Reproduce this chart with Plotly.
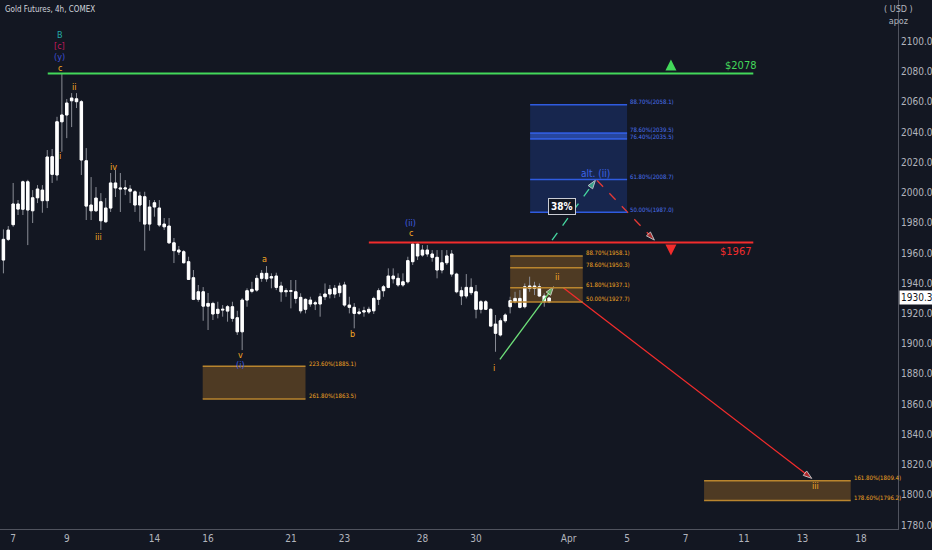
"""Gold futures 4h Elliott-wave chart (TradingView style) rebuilt with Plotly."""

import plotly.graph_objects as go

BG = "#131722"
AXIS_TEXT = "#b2b5be"
AXIS_LINE = "#50535e"
WICK = "#8a8d96"
ORANGE = "#f4a623"
BLUE = "#3d64e8"
GREEN = "#43d85a"
RED = "#f22c2c"
FONT = "DejaVu Sans Condensed, Roboto, sans-serif"

# ---------------------------------------------------------------------------
# Data (4h candles, 7 Mar - 1 Apr, x = bar number)
# ---------------------------------------------------------------------------

opens = [
    1955.4, 1969.1, 1978.8, 1992.5, 1989.0, 2007.2, 1988.0, 1996.6, 2001.7, 1994.7,
    2023.8, 2011.7, 2046.9, 2051.4, 2060.8, 2062.1, 2060.2, 2021.1, 1991.8, 1988.0,
    1994.0, 1980.7, 1989.8, 2006.4, 2003.0, 2002.4, 2002.4, 2000.6, 1991.8, 1997.3,
    1979.2, 1990.5, 1989.8, 1979.2, 1977.9, 1966.8, 1962.0, 1960.9, 1954.3, 1943.7,
    1929.4, 1934.4, 1924.9, 1926.7, 1920.1, 1922.8, 1921.6, 1924.5, 1917.2, 1907.9,
    1928.9, 1934.7, 1935.5, 1943.3, 1946.6, 1944.4, 1944.8, 1938.2, 1934.4, 1935.1,
    1934.4, 1930.7, 1922.8, 1928.9, 1926.3, 1926.3, 1931.1, 1932.9, 1936.7, 1933.8,
    1938.9, 1925.6, 1924.1, 1920.1, 1921.0, 1921.0, 1921.8, 1929.4, 1935.1, 1937.3,
    1944.8, 1943.3, 1938.9, 1941.0, 1954.3, 1966.0, 1958.7, 1962.0, 1959.4, 1957.2,
    1948.8, 1953.6, 1959.4, 1946.1, 1935.1, 1931.6, 1937.3, 1934.4, 1922.8, 1927.8,
    1922.8, 1913.0, 1905.8, 1915.2, 1924.5, 1927.8, 1930.0, 1924.5, 1936.7, 1938.2,
    1937.7, 1931.6, 1927.8,
]
highs = [
    1975.7, 1977.9, 2006.4, 1995.1, 2008.0, 2008.5, 2001.7, 2005.0, 2005.0, 2028.2,
    2028.9, 2050.2, 2078.8, 2062.0, 2065.9, 2065.9, 2061.3, 2029.5, 2010.3, 2003.7,
    1999.7, 1996.4, 2013.0, 2015.0, 2013.0, 2008.3, 2005.0, 2001.7, 2000.6, 2000.6,
    1995.1, 1995.1, 1995.1, 1983.2, 1983.2, 1970.0, 1964.7, 1962.0, 1957.6, 1948.8,
    1938.9, 1937.5, 1933.6, 1927.8, 1927.8, 1925.6, 1925.6, 1927.8, 1921.8, 1930.2,
    1936.7, 1941.0, 1945.5, 1948.8, 1951.4, 1946.6, 1947.0, 1941.0, 1936.7, 1942.2,
    1942.2, 1933.4, 1930.0, 1931.1, 1928.5, 1933.4, 1939.9, 1938.9, 1938.9, 1940.4,
    1941.0, 1931.1, 1926.9, 1923.4, 1924.5, 1924.5, 1931.1, 1936.7, 1938.9, 1949.9,
    1949.9, 1946.6, 1946.6, 1957.6, 1966.4, 1966.4, 1965.3, 1965.3, 1962.0, 1962.0,
    1962.0, 1962.0, 1962.0, 1947.0, 1937.7, 1946.1, 1943.3, 1938.9, 1928.9, 1928.9,
    1923.4, 1919.0, 1916.8, 1920.1, 1931.1, 1934.4, 1935.5, 1939.9, 1944.4, 1941.0,
    1939.9, 1933.4, 1931.1,
]
lows = [
    1946.6, 1968.0, 1977.4, 1985.2, 1985.2, 1965.3, 1979.9, 1993.1, 1986.7, 1989.8,
    2006.4, 2008.0, 2027.1, 2036.1, 2043.4, 2056.0, 2011.7, 1981.9, 1981.9, 1987.2,
    1975.3, 1980.1, 1987.2, 1997.1, 1987.2, 1998.4, 1993.1, 1987.2, 1980.7, 1961.6,
    1974.8, 1984.1, 1977.4, 1975.3, 1966.0, 1953.4, 1958.7, 1953.2, 1942.2, 1928.9,
    1927.8, 1915.2, 1909.1, 1915.7, 1916.8, 1917.9, 1914.6, 1914.6, 1905.8, 1895.8,
    1924.5, 1933.4, 1934.4, 1941.0, 1941.0, 1936.7, 1935.5, 1927.8, 1931.1, 1923.4,
    1926.7, 1920.1, 1920.1, 1924.5, 1922.3, 1917.9, 1928.9, 1930.0, 1930.2, 1931.1,
    1924.5, 1920.1, 1910.2, 1919.0, 1917.9, 1919.7, 1919.7, 1925.6, 1931.1, 1936.7,
    1939.9, 1937.7, 1937.7, 1939.9, 1952.1, 1955.4, 1957.6, 1957.6, 1954.3, 1943.3,
    1946.6, 1952.1, 1944.4, 1933.4, 1925.6, 1930.0, 1932.2, 1916.8, 1920.1, 1922.3,
    1911.3, 1894.7, 1904.8, 1913.9, 1920.1, 1926.7, 1923.4, 1923.4, 1934.4, 1932.2,
    1931.1, 1924.5, 1926.9,
]
closes = [
    1969.1, 1975.2, 1992.5, 1989.1, 2007.2, 1988.5, 1996.6, 2002.4, 1994.7, 2023.6,
    2012.1, 2046.9, 2051.4, 2059.3, 2062.6, 2060.2, 2021.6, 1991.1, 1988.0, 1996.4,
    1981.4, 1989.8, 2006.4, 2003.1, 2002.4, 2003.1, 2001.0, 1991.8, 1997.8, 1979.2,
    1990.5, 1993.3, 1978.6, 1977.4, 1966.8, 1961.6, 1960.7, 1953.6, 1942.6, 1929.4,
    1934.4, 1924.9, 1926.7, 1919.7, 1922.8, 1922.3, 1924.5, 1916.8, 1907.9, 1928.9,
    1935.1, 1936.0, 1943.3, 1946.6, 1943.0, 1943.5, 1937.3, 1934.4, 1935.1, 1934.7,
    1930.0, 1921.8, 1929.4, 1926.3, 1927.1, 1931.1, 1932.9, 1936.0, 1932.9, 1938.2,
    1925.6, 1924.1, 1920.1, 1921.0, 1921.8, 1922.8, 1930.0, 1935.1, 1937.7, 1944.8,
    1943.0, 1938.9, 1941.0, 1955.0, 1966.0, 1958.1, 1962.0, 1959.4, 1957.2, 1948.8,
    1953.6, 1958.1, 1946.1, 1934.4, 1931.6, 1937.3, 1933.8, 1922.8, 1927.8, 1922.8,
    1911.7, 1906.9, 1915.2, 1919.0, 1928.5, 1930.0, 1924.1, 1937.7, 1938.2, 1936.7,
    1931.6, 1927.8, 1930.3,
]
bars = list(range(len(opens)))

day_ticks = [2, 13, 31, 42, 59, 70, 86, 97, 116, 128, 140, 152, 164, 176]
day_labels = ["7", "9", "14", "16", "21", "23", "28", "30", "Apr", "5", "7", "11", "13", "18"]
price_ticks = list(range(1780, 2101, 20))

resistance_hi = 2078.8
resistance_lo = 1967.0
last_price = 1930.3

# Fibonacci target zones
alt_pct = ["50.00%", "61.80%", "76.40%", "78.60%", "88.70%"]
alt_lvl = [1987.0, 2008.7, 2035.5, 2039.5, 2058.1]
ii_pct = ["50.00%", "61.80%", "78.60%", "88.70%"]
ii_lvl = [1927.7, 1937.1, 1950.3, 1958.1]
v_pct = ["223.60%", "261.80%"]
v_lvl = [1885.1, 1863.5]
iii_pct = ["161.80%", "178.60%"]
iii_lvl = [1809.4, 1796.2]

# Projected paths (bar, price)
up_x, up_y = [101.9, 112.9], [1889.7, 1937.7]
alt_up_x, alt_up_y = [112.6, 121.5], [1968.6, 2008.2]
alt_dn_x, alt_dn_y = [121.8, 133.6], [2008.2, 1968.6]
down_x, down_y = [114.9, 165.9], [1937.1, 1810.9]

Y_RANGE = [1777.4, 2127.5]
PLOT_H = 529  # plot area height in px, used to turn pixel offsets into prices

# ---------------------------------------------------------------------------
# Figure
# ---------------------------------------------------------------------------

fig = go.Figure()

candle_style = dict(line=dict(color=WICK, width=1), fillcolor="#ffffff")
fig.add_trace(
    go.Candlestick(
        x=bars, open=opens, high=highs, low=lows, close=closes,
        increasing=candle_style, decreasing=candle_style,
        whiskerwidth=0, showlegend=False, hoverinfo="skip",
    )
)
# bodies again in white so the outline doesn't look grey
body_top = [max(o, c) for o, c in zip(opens, closes)]
body_bot = [min(o, c) for o, c in zip(opens, closes)]
body_style = dict(line=dict(color="#ffffff", width=1), fillcolor="#ffffff")
fig.add_trace(
    go.Candlestick(
        x=bars, open=body_bot, high=body_top, low=body_bot, close=body_top,
        increasing=body_style, decreasing=body_style,
        whiskerwidth=0, showlegend=False, hoverinfo="skip",
    )
)


def add_fib_box(x0, x1, levels, pcts, fill, line_color, text_color):
    fig.add_shape(type="rect", x0=x0, x1=x1, y0=min(levels), y1=max(levels),
                  fillcolor=fill, line_width=0, layer="below")
    for lvl, pct in zip(levels, pcts):
        fig.add_shape(type="line", x0=x0, x1=x1, y0=lvl, y1=lvl,
                      line=dict(color=line_color, width=1.5))
        fig.add_annotation(x=x1, y=lvl, text=f"{pct}({lvl:.1f})", showarrow=False,
                           xanchor="left", yanchor="middle", xshift=1, yshift=3,
                           font=dict(size=6, color=text_color, family=FONT))


add_fib_box(108.1, 128.0, alt_lvl, alt_pct, "rgba(41,98,255,0.2)", "#2f5be0", "#4a72f0")
fig.add_shape(type="rect", x0=108.1, x1=128.0, y0=alt_lvl[2], y1=alt_lvl[3],
              fillcolor="rgba(60,110,255,0.45)", line_width=0)
orange_fill = "rgba(255,165,40,0.25)"
orange_line = "#b9852e"
add_fib_box(104.0, 118.9, ii_lvl, ii_pct, orange_fill, orange_line, ORANGE)
add_fib_box(40.9, 62.0, v_lvl, v_pct, orange_fill, orange_line, ORANGE)
add_fib_box(143.8, 173.9, iii_lvl, iii_pct, orange_fill, orange_line, ORANGE)

# key horizontal levels
fig.add_shape(type="line", x0=9.1, x1=153.9, y0=resistance_hi, y1=resistance_hi,
              line=dict(color=GREEN, width=2))
fig.add_shape(type="line", x0=75.0, x1=153.9, y0=resistance_lo, y1=resistance_lo,
              line=dict(color=RED, width=2))

# small up / down arrow icons sitting on the two levels
px_to_price = (Y_RANGE[1] - Y_RANGE[0]) / PLOT_H
fig.add_trace(
    go.Scatter(
        x=[137, 137],
        y=[resistance_hi + 14 * px_to_price, resistance_lo - 13 * px_to_price],
        mode="markers",
        marker=dict(symbol=["arrow-up", "arrow-down"], size=11, color=[GREEN, RED]),
        showlegend=False, hoverinfo="skip",
    )
)


# projected paths
def add_path(xs, ys, color, dash="solid", width=1.3):
    fig.add_trace(
        go.Scatter(
            x=xs, y=ys, mode="lines+markers",
            line=dict(color=color, width=width, dash=dash),
            marker=dict(symbol="arrow", size=[0, 9], angleref="previous", color=color),
            showlegend=False, hoverinfo="skip",
        )
    )


add_path(up_x, up_y, "#6ee07a")
add_path(alt_up_x, alt_up_y, "#45d6a0", dash="dash")
add_path(alt_dn_x, alt_dn_y, "#e53935", dash="dash")
add_path(down_x, down_y, RED)

# ---------------------------------------------------------------------------
# Wave labels
# ---------------------------------------------------------------------------

wave_labels = [
    # bar, text, colour, anchored to high/low, pixel shift
    (12, "B", "#23a8a8", "high", 39),
    (12, "[c]", "#c2185b", "high", 28),
    (12, "(y)", "#3f51d5", "high", 17),
    (12, "c", ORANGE, "high", 6),
    (15, "ii", ORANGE, "high", 6),
    (12, "i", ORANGE, "low", -4),
    (20, "iii", ORANGE, "low", -7),
    (23, "iv", ORANGE, "high", 3),
    (49, "v", ORANGE, "low", -5),
    (49, "(i)", "#3f5de0", "low", -15),
    (54, "a", ORANGE, "high", 7),
    (72, "b", ORANGE, "low", -6),
    (84, "c", ORANGE, "high", 10),
    (84, "(ii)", "#3f5de0", "high", 20),
    (101, "i", ORANGE, "low", -16),
]
for bar, text, color, side, shift in wave_labels:
    y = highs[bar] if side == "high" else lows[bar]
    fig.add_annotation(x=bar - 0.4, y=y, text=text, showarrow=False, yshift=shift,
                       font=dict(size=9, color=color, family=FONT))

fig.add_annotation(x=up_x[1] + 0.8, y=up_y[1], text="ii", showarrow=False, yshift=10,
                   font=dict(size=9, color=ORANGE, family=FONT))
fig.add_annotation(x=down_x[1] + 0.8, y=down_y[1], text="iii", showarrow=False, yshift=-8,
                   font=dict(size=9, color=ORANGE, family=FONT))
fig.add_annotation(x=alt_up_x[1], y=alt_up_y[1], text="alt. (ii)", showarrow=False, yshift=7,
                   font=dict(size=10, color=BLUE, family=FONT))
fig.add_annotation(x=114.7, y=alt_lvl[0], text="<b>38%</b>", showarrow=False, yshift=6,
                   bgcolor=BG, bordercolor="#c9ccd4", borderwidth=1, borderpad=2,
                   font=dict(size=10, color="#ffffff", family=FONT))

# level tags
fig.add_annotation(x=151.2, y=resistance_hi, text="$2078", showarrow=False, yshift=8,
                   font=dict(size=11, color=GREEN, family=FONT))
fig.add_annotation(x=150.2, y=resistance_lo, text="$1967", showarrow=False, yshift=-9,
                   font=dict(size=11, color=RED, family=FONT))

# header and price tag
fig.add_annotation(xref="paper", yref="paper", x=0.003, y=1, yshift=-3, xanchor="left",
                   yanchor="top", text="Gold Futures, 4h, COMEX", showarrow=False,
                   font=dict(size=8, color="#d1d4dc", family=FONT))
fig.add_annotation(xref="paper", yref="paper", x=1, y=1, xshift=17, yshift=-2,
                   yanchor="top", text="( USD )<br>apoz", showarrow=False,
                   font=dict(size=9, color=AXIS_TEXT, family=FONT))
fig.add_annotation(xref="paper", x=1, y=last_price, xanchor="left", xshift=1,
                   text="1930.3", showarrow=False, bgcolor="#ffffff", borderpad=1,
                   font=dict(size=10, color=BG, family=FONT))

fig.update_layout(
    width=932,
    height=550,
    paper_bgcolor=BG,
    plot_bgcolor=BG,
    margin=dict(l=0, r=34, t=0, b=21),
    showlegend=False,
    font=dict(family=FONT, color=AXIS_TEXT),
    xaxis=dict(
        range=[-0.7, 183.6], rangeslider=dict(visible=False),
        tickvals=day_ticks, ticktext=day_labels, showgrid=False, zeroline=False,
        showline=True, linecolor=AXIS_LINE, ticks="",
        tickfont=dict(size=10, color=AXIS_TEXT, family=FONT),
    ),
    yaxis=dict(
        side="right", range=Y_RANGE, tickvals=price_ticks, tickformat=".1f",
        showgrid=False, zeroline=False, showline=True, linecolor=AXIS_LINE, ticks="",
        tickfont=dict(size=10, color=AXIS_TEXT, family=FONT),
    ),
)

# page body has a default 8px margin; drop it so the chart fills the window
fig.write_html(
    "out.html",
    config={"displayModeBar": False},
    post_script="document.body.style.margin='0';document.body.style.background='#131722';",
)
